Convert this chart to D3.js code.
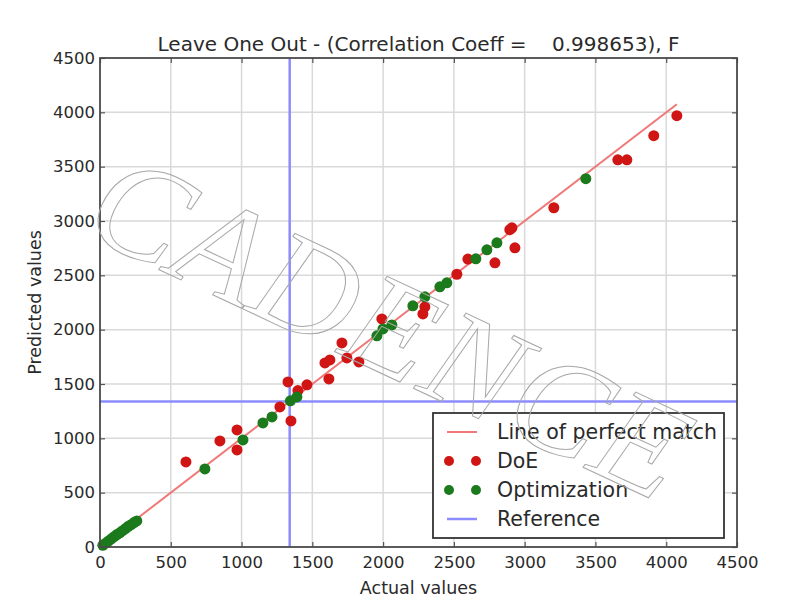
<!DOCTYPE html>
<html lang="en">
<head>
    <meta charset="UTF-8">
    <title>Leave One Out</title>
    <script src="https://cdnjs.cloudflare.com/ajax/libs/d3/7.8.5/d3.min.js"></script>
    <style>
        body { margin: 0; background: #fff; }
        text { font-family: "DejaVu Sans", sans-serif; fill: #2a2a2a; }
    </style>
</head>
<body>
    <div id="chart"></div>

    <script>
        // values
        const doeActual    = [607, 847, 968, 968, 1271, 1328, 1349, 1398, 1462, 1617, 1589, 1624, 1744, 1829, 1709,
                              1991, 2295, 2281, 2521, 2599, 2790, 2895, 2910, 2931, 3206, 3658, 3722, 3912, 4075];
        const doePredicted = [783, 976, 1077, 893, 1289, 1519, 1160, 1440, 1492, 1547, 1694, 1722, 1740, 1703, 1878,
                              2099, 2210, 2145, 2510, 2650, 2615, 2920, 2937, 2753, 3122, 3563, 3563, 3785, 3969];

        const optActual    = [20, 40, 60, 80, 100, 120, 140, 160, 180, 200, 220, 240, 260,
                              741, 1010, 1151, 1215, 1345, 1391, 1956, 1999, 2062, 2210, 2295, 2401, 2450,
                              2655, 2733, 2804, 3432];
        const optPredicted = [15, 35, 55, 75, 95, 115, 130, 150, 170, 190, 205, 225, 240,
                              718, 985, 1142, 1197, 1345, 1381, 1943, 2007, 2044, 2219, 2302, 2394, 2431,
                              2652, 2735, 2799, 3389];

        const perfectMatch = [0, 4075];
        const referenceValue = 1340;

        const xTicks = [0, 500, 1000, 1500, 2000, 2500, 3000, 3500, 4000, 4500];
        const yTicks = [0, 500, 1000, 1500, 2000, 2500, 3000, 3500, 4000, 4500];

        const legendItems = ["Line of perfect match", "DoE", "Optimization", "Reference"];

        const width = 791;
        const height = 608;
        const plotLeft = 100, plotRight = 737, plotTop = 58, plotBottom = 547;

        const red = "#d01515";
        const green = "#1b7a1b";
        const lineRed = "#f07878";
        const refBlue = "#8c8cff";

        const x = d3.scaleLinear().domain([0, 4500]).range([plotLeft, plotRight]);
        const y = d3.scaleLinear().domain([0, 4500]).range([plotBottom, plotTop]);

        const svg = d3.select("#chart")
            .append("svg")
            .attr("width", width)
            .attr("height", height);

        // grid
        svg.append("g").selectAll("line")
            .data(xTicks.slice(1, -1))
            .enter().append("line")
            .attr("x1", d => x(d)).attr("x2", d => x(d))
            .attr("y1", plotTop).attr("y2", plotBottom)
            .attr("stroke", "#d9d9d9").attr("stroke-width", 1.5);

        svg.append("g").selectAll("line")
            .data(yTicks.slice(1, -1))
            .enter().append("line")
            .attr("x1", plotLeft).attr("x2", plotRight)
            .attr("y1", d => y(d)).attr("y2", d => y(d))
            .attr("stroke", "#d9d9d9").attr("stroke-width", 1.5);

        // reference lines
        svg.append("line")
            .attr("x1", x(referenceValue)).attr("x2", x(referenceValue))
            .attr("y1", plotTop).attr("y2", plotBottom)
            .attr("stroke", refBlue).attr("stroke-width", 2.5);
        svg.append("line")
            .attr("x1", plotLeft).attr("x2", plotRight)
            .attr("y1", y(referenceValue)).attr("y2", y(referenceValue))
            .attr("stroke", refBlue).attr("stroke-width", 2.5);

        // line of perfect match
        svg.append("line")
            .attr("x1", x(perfectMatch[0])).attr("y1", y(perfectMatch[0]))
            .attr("x2", x(perfectMatch[1])).attr("y2", y(perfectMatch[1]))
            .attr("stroke", lineRed).attr("stroke-width", 2);

        // scatter points
        svg.append("g").selectAll("circle")
            .data(doeActual.map((d, i) => [d, doePredicted[i]]))
            .enter().append("circle")
            .attr("cx", d => x(d[0])).attr("cy", d => y(d[1]))
            .attr("r", 5.5).attr("fill", red);

        svg.append("g").selectAll("circle")
            .data(optActual.map((d, i) => [d, optPredicted[i]]))
            .enter().append("circle")
            .attr("cx", d => x(d[0])).attr("cy", d => y(d[1]))
            .attr("r", 5.5).attr("fill", green);

        // axes, ticks pointing inward on all four sides
        svg.append("g")
            .attr("transform", `translate(0,${plotBottom})`)
            .call(d3.axisBottom(x).tickValues(xTicks).tickSize(-5).tickPadding(9).tickFormat(d3.format("d")));
        svg.append("g")
            .attr("transform", `translate(${plotLeft},0)`)
            .call(d3.axisLeft(y).tickValues(yTicks).tickSize(-5).tickPadding(5).tickFormat(d3.format("d")));
        svg.append("g")
            .attr("transform", `translate(0,${plotTop})`)
            .call(d3.axisTop(x).tickValues(xTicks).tickSize(-5).tickFormat(""));
        svg.append("g")
            .attr("transform", `translate(${plotRight},0)`)
            .call(d3.axisRight(y).tickValues(yTicks).tickSize(-5).tickFormat(""));

        svg.selectAll(".domain").remove();
        svg.selectAll(".tick line").attr("stroke", "#555").attr("stroke-width", 1.2);
        svg.selectAll(".tick text")
            .style("font-family", "'DejaVu Sans', sans-serif")
            .style("font-size", "16.5px")
            .attr("fill", "#3a3a3a");

        // frame
        svg.append("rect")
            .attr("x", plotLeft).attr("y", plotTop)
            .attr("width", plotRight - plotLeft).attr("height", plotBottom - plotTop)
            .attr("fill", "none").attr("stroke", "#4a4a4a").attr("stroke-width", 1.8);

        // title and axis labels
        svg.append("text")
            .attr("x", (plotLeft + plotRight) / 2).attr("y", 51)
            .attr("text-anchor", "middle")
            .style("font-size", "20px")
            .style("white-space", "pre")
            .text("Leave One Out - (Correlation Coeff =    0.998653), F");

        svg.append("text")
            .attr("x", (plotLeft + plotRight) / 2).attr("y", 594)
            .attr("text-anchor", "middle")
            .style("font-size", "17.5px")
            .text("Actual values");

        svg.append("text")
            .attr("transform", `translate(41,${(plotTop + plotBottom) / 2}) rotate(-90)`)
            .attr("text-anchor", "middle")
            .style("font-size", "17.5px")
            .text("Predicted values");

        // legend
        const legend = svg.append("g");
        legend.append("rect")
            .attr("x", 433).attr("y", 413)
            .attr("width", 291).attr("height", 125)
            .attr("fill", "#fff").attr("stroke", "#333").attr("stroke-width", 1.8);

        const rowY = d3.scalePoint().domain(legendItems).range([432, 519]);

        legend.append("line")
            .attr("x1", 447).attr("x2", 477)
            .attr("y1", rowY(legendItems[0])).attr("y2", rowY(legendItems[0]))
            .attr("stroke", lineRed).attr("stroke-width", 2);
        legend.append("line")
            .attr("x1", 447).attr("x2", 477)
            .attr("y1", rowY(legendItems[3])).attr("y2", rowY(legendItems[3]))
            .attr("stroke", refBlue).attr("stroke-width", 2.5);

        [[legendItems[1], red], [legendItems[2], green]].forEach(([name, col]) => {
            [449, 476].forEach(cx => {
                legend.append("circle")
                    .attr("cx", cx).attr("cy", rowY(name))
                    .attr("r", 5).attr("fill", col);
            });
        });

        legend.selectAll("text.item")
            .data(legendItems)
            .enter().append("text")
            .attr("class", "item")
            .attr("x", 497).attr("y", d => rowY(d))
            .attr("dy", "0.35em")
            .style("font-size", "20.5px")
            .text(d => d);

        // watermark over the chart
        svg.append("text")
            .attr("transform", "translate(392,325) rotate(25)")
            .attr("text-anchor", "middle")
            .attr("dy", "0.35em")
            .style("font-family", "'Liberation Serif', serif")
            .style("font-style", "italic")
            .style("font-size", "138px")
            .style("letter-spacing", "2px")
            .style("fill", "none")
            .style("stroke", "#a8a8a8")
            .style("stroke-width", 1)
            .text("CADENCE");
    </script>
</body>
</html>
